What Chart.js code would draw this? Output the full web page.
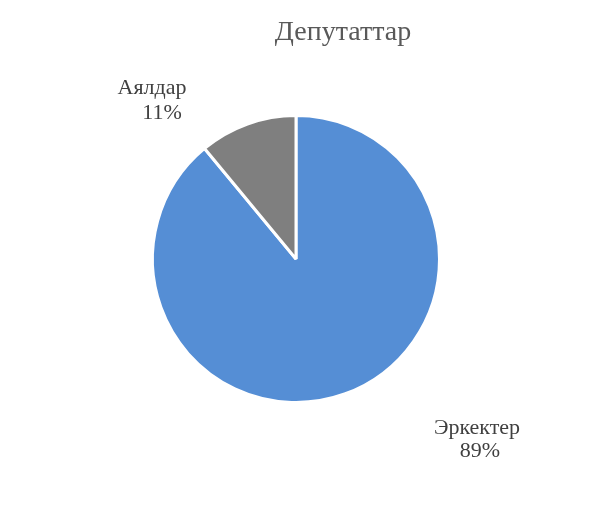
<!DOCTYPE html>
<html>
<head>
<meta charset="utf-8">
<script src="https://cdn.jsdelivr.net/npm/chart.js@4/dist/chart.umd.min.js"></script>
<style>
html,body{margin:0;padding:0;background:#fff;}
#wrap{width:613px;height:513px;}
</style>
</head>
<body>
<div id="wrap"><canvas id="c" width="613" height="513"></canvas></div>
<script>
const chartTitle = "Депутаттар";
const categories = ["Эркектер", "Аялдар"];
const values = [89, 11];
const colors = ["#558ED5", "#7F7F7F"];

const total = values.reduce((a, b) => a + b, 0);

const labelPlugin = {
  id: 'labels',
  afterDraw(chart) {
    const ctx = chart.ctx;
    const meta = chart.getDatasetMeta(0);
    const arc0 = meta.data[0];
    const cx = arc0.x, cy = arc0.y;
    ctx.save();
    ctx.textAlign = 'center';
    ctx.textBaseline = 'alphabetic';
    // Title
    ctx.fillStyle = '#595959';
    ctx.font = '28px "Liberation Serif", "Times New Roman", serif';
    ctx.fillText(chartTitle, cx + 47, 40);
    // Data labels
    ctx.fillStyle = '#404040';
    ctx.font = '22px "Liberation Serif", "Times New Roman", serif';
    const offsets = [
      [[ 181, 175], [ 184, 198]],
      [[-144, -165], [-134, -140]]
    ];
    values.forEach((v, i) => {
      const pct = Math.round(v / total * 100) + '%';
      const o = offsets[i];
      ctx.fillText(categories[i], cx + o[0][0], cy + o[0][1]);
      ctx.fillText(pct, cx + o[1][0], cy + o[1][1]);
    });
    ctx.restore();
  }
};

new Chart(document.getElementById('c'), {
  type: 'pie',
  data: {
    labels: categories,
    datasets: [{
      data: values,
      backgroundColor: colors,
      borderColor: '#FFFFFF',
      borderWidth: 3
    }]
  },
  options: {
    responsive: false,
    animation: false,
    layout: { padding: { left: 151, right: 172, top: 114, bottom: 109 } },
    plugins: {
      legend: { display: false },
      tooltip: { enabled: false },
      title: { display: false }
    }
  },
  plugins: [labelPlugin]
});
</script>
</body>
</html>
